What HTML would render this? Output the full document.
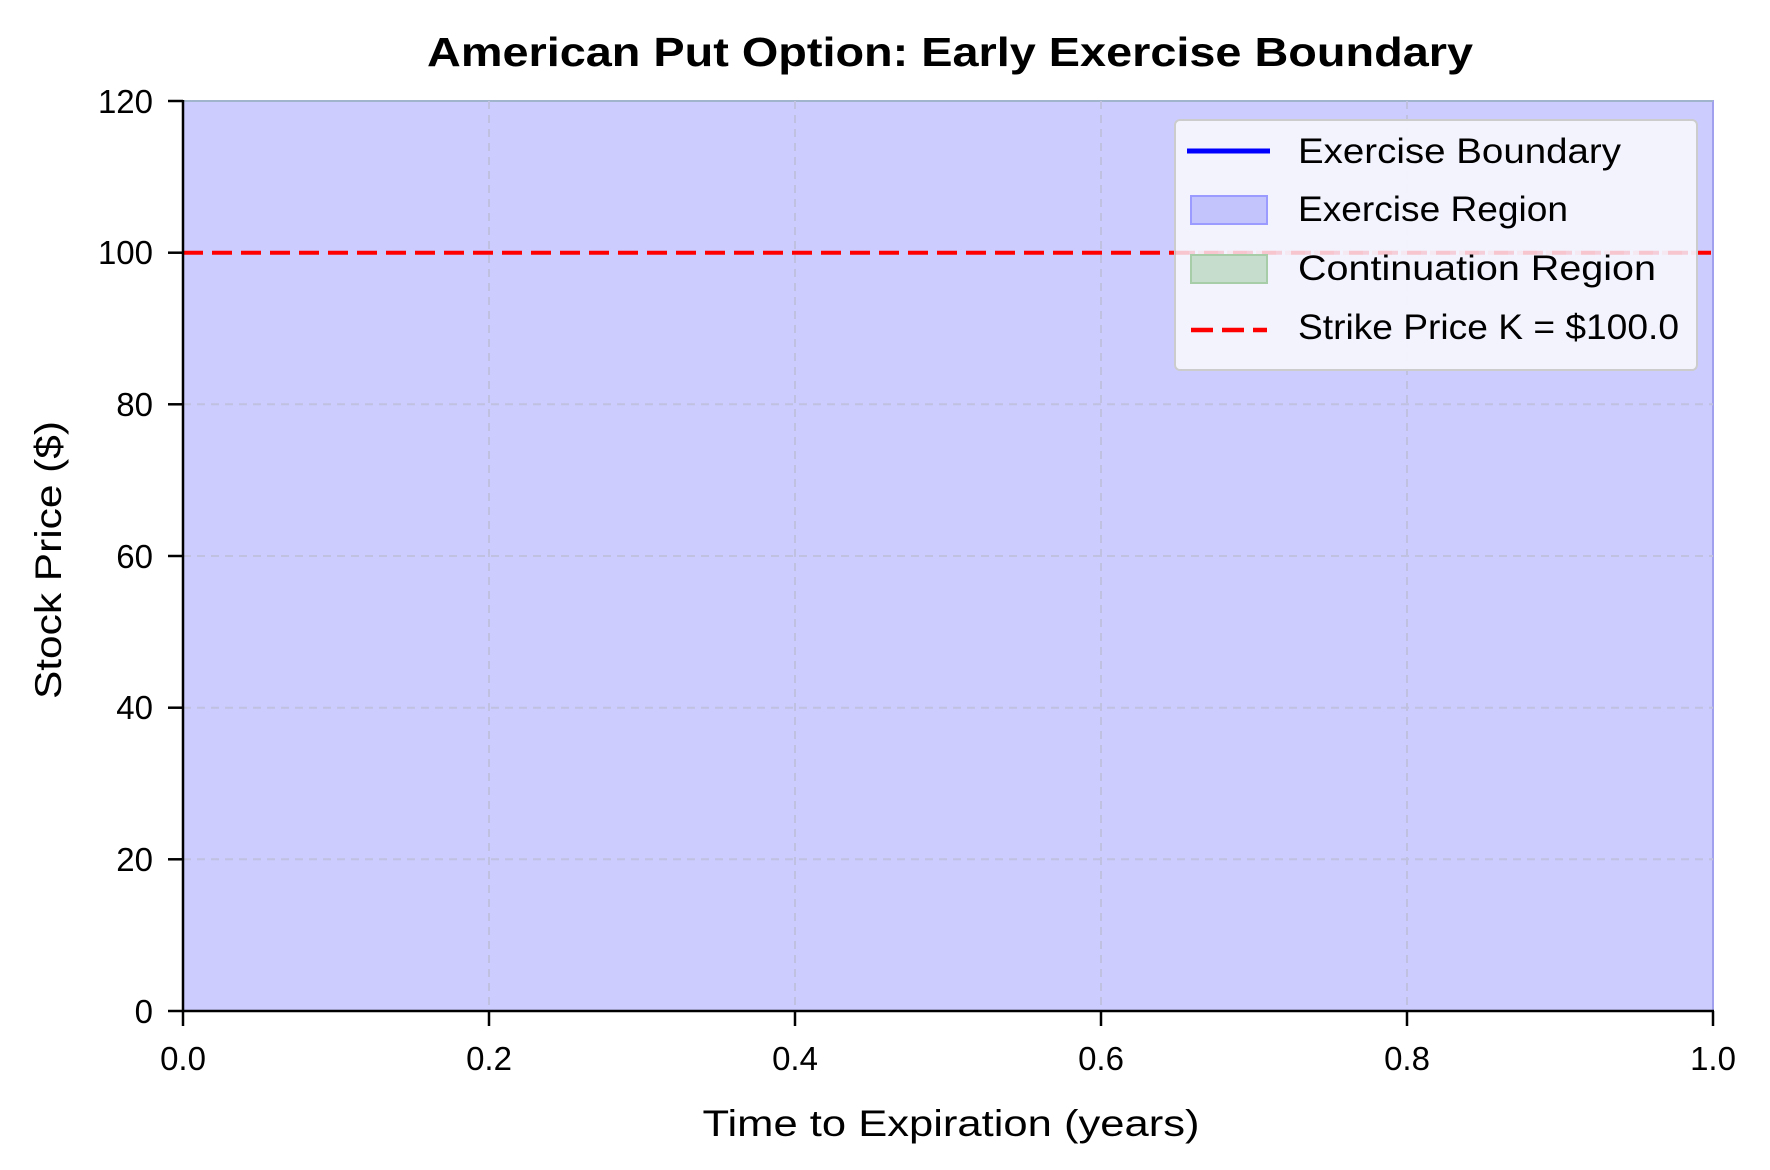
<!DOCTYPE html>
<html><head><meta charset="utf-8"><style>body{margin:0;background:#fff}svg{display:block}</style></head>
<body>
<svg width="1770" height="1170" viewBox="0 0 1770 1170" xmlns="http://www.w3.org/2000/svg" font-family="Liberation Sans, sans-serif">
<rect width="1770" height="1170" fill="#fff"/>
<rect x="183" y="101" width="1530" height="910" fill="#ccccff" stroke="#a0a0ee" stroke-width="2"/>
<line x1="183" y1="101" x2="1713" y2="101" stroke="#a0b4cc" stroke-width="2"/>
<g stroke="#c0c0e0" stroke-width="2" stroke-dasharray="8,6">
<line x1="489" y1="101" x2="489" y2="1011"/><line x1="795" y1="101" x2="795" y2="1011"/>
<line x1="1101" y1="101" x2="1101" y2="1011"/><line x1="1407" y1="101" x2="1407" y2="1011"/>
<line x1="183" y1="859.3" x2="1713" y2="859.3"/><line x1="183" y1="707.7" x2="1713" y2="707.7"/>
<line x1="183" y1="556" x2="1713" y2="556"/><line x1="183" y1="404.3" x2="1713" y2="404.3"/>
</g>
<line x1="183" y1="252.7" x2="1713" y2="252.7" stroke="#ff0000" stroke-width="4" stroke-dasharray="20,9"/>
<g stroke="#000" stroke-width="2.5">
<line x1="183" y1="100" x2="183" y2="1012"/><line x1="182" y1="1011" x2="1714" y2="1011"/>
<line x1="168" y1="101" x2="183" y2="101"/><line x1="168" y1="252.7" x2="183" y2="252.7"/><line x1="168" y1="404.3" x2="183" y2="404.3"/><line x1="168" y1="556" x2="183" y2="556"/><line x1="168" y1="707.7" x2="183" y2="707.7"/><line x1="168" y1="859.3" x2="183" y2="859.3"/><line x1="168" y1="1011" x2="183" y2="1011"/>
<line x1="183" y1="1011" x2="183" y2="1026"/><line x1="489" y1="1011" x2="489" y2="1026"/><line x1="795" y1="1011" x2="795" y2="1026"/><line x1="1101" y1="1011" x2="1101" y2="1026"/><line x1="1407" y1="1011" x2="1407" y2="1026"/><line x1="1713" y1="1011" x2="1713" y2="1026"/>
</g>
<g font-size="33" text-anchor="end" fill="#000">
<text x="153" y="113">120</text><text x="153" y="264">100</text><text x="153" y="416">80</text><text x="153" y="568">60</text><text x="153" y="719">40</text><text x="153" y="871">20</text><text x="153" y="1023">0</text>
</g>
<g font-size="33" text-anchor="middle" fill="#000">
<text x="183" y="1070">0.0</text><text x="489" y="1070">0.2</text><text x="795" y="1070">0.4</text><text x="1101" y="1070">0.6</text><text x="1407" y="1070">0.8</text><text x="1713" y="1070">1.0</text>
</g>
<text x="951" y="1136" font-size="37" text-anchor="middle" textLength="497" lengthAdjust="spacingAndGlyphs">Time to Expiration (years)</text>
<text transform="translate(61,560) rotate(-90)" font-size="37" text-anchor="middle" textLength="278" lengthAdjust="spacingAndGlyphs">Stock Price ($)</text>
<text x="950" y="66" font-size="41" font-weight="bold" text-anchor="middle" textLength="1046" lengthAdjust="spacingAndGlyphs">American Put Option: Early Exercise Boundary</text>
<rect x="1175" y="120" width="522" height="250" rx="5" fill="#f4f4fe" fill-opacity="0.95" stroke="#cccccc" stroke-width="2"/>
<line x1="1175" y1="252.7" x2="1697" y2="252.7" stroke="#ff0000" stroke-opacity="0.15" stroke-width="4" stroke-dasharray="20,9"/>
<line x1="1187" y1="151" x2="1270" y2="151" stroke="#0000ff" stroke-width="5"/>
<rect x="1191" y="196" width="76" height="28" fill="#c4c4fc" stroke="#9b9bff" stroke-width="2"/>
<rect x="1191" y="255" width="76" height="28" fill="#c6dccc" stroke="#a6cca8" stroke-width="2"/>
<line x1="1191" y1="330" x2="1267" y2="330" stroke="#ff0000" stroke-width="4.5" stroke-dasharray="22,9"/>
<g font-size="35" fill="#000">
<text x="1298" y="163" textLength="323" lengthAdjust="spacingAndGlyphs">Exercise Boundary</text>
<text x="1298" y="221" textLength="270" lengthAdjust="spacingAndGlyphs">Exercise Region</text>
<text x="1298" y="280" textLength="358" lengthAdjust="spacingAndGlyphs">Continuation Region</text>
<text x="1298" y="339" textLength="381" lengthAdjust="spacingAndGlyphs">Strike Price K = $100.0</text>
</g>
</svg>
</body></html>
